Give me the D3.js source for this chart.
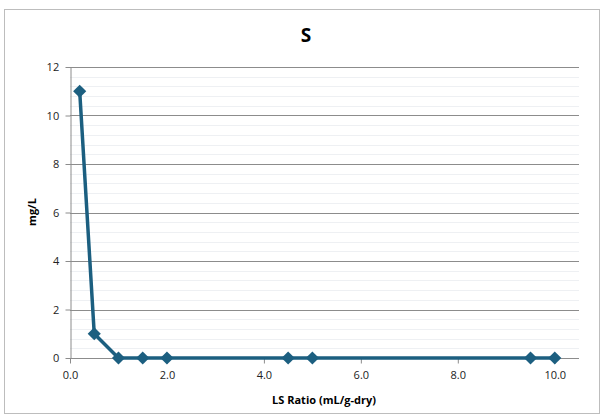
<!DOCTYPE html>
<html><head><meta charset="utf-8">
<script src="https://cdn.jsdelivr.net/npm/d3@7"></script>
<style>body{margin:0;background:#fff;}svg{display:block;}</style>
</head><body>
<script>
const xValues = [0.2, 0.5, 1.0, 1.5, 2.0, 4.5, 5.0, 9.5, 10.0];
const sValues = [11, 1, 0, 0, 0, 0, 0, 0, 0];
const xTicks = [0, 2, 4, 6, 8, 10];
const yTicks = [0, 2, 4, 6, 8, 10, 12];
const title = "S";
const xTitle = "LS Ratio (mL/g-dry)";
const yTitle = "mg/L";

(function () {
const W = 605, H = 420;
const svg = d3.select("body").append("svg").attr("width", W).attr("height", H);
const font = "'Open Sans', 'Liberation Sans', sans-serif";

svg.append("rect").attr("x", 4.5).attr("y", 9.5).attr("width", 595).attr("height", 404)
  .attr("fill", "#fff").attr("stroke", "#bdbdbd").attr("stroke-width", 1);

const mLeft = 70, mRight = 579, mTop = 67, mBottom = 358;
const x = d3.scaleLinear().domain([0, 10.5]).range([mLeft, mRight]);
const y = d3.scaleLinear().domain([0, 12]).range([mBottom, mTop]);

// minor grid
const minor = d3.range(0, 12.01, 0.4).filter(v => Math.abs(v / 2 - Math.round(v / 2)) > 1e-6);
svg.append("g").selectAll("line").data(minor).join("line")
  .attr("x1", mLeft).attr("x2", mRight)
  .attr("y1", d => Math.round(y(d)) + 0.5).attr("y2", d => Math.round(y(d)) + 0.5)
  .attr("stroke", "#eef0f3").attr("stroke-width", 1);

// major grid
svg.append("g").selectAll("line").data(yTicks.filter(d => d > 0)).join("line")
  .attr("x1", mLeft).attr("x2", mRight)
  .attr("y1", d => Math.round(y(d)) + 0.5).attr("y2", d => Math.round(y(d)) + 0.5)
  .attr("stroke", "#8c8c8c").attr("stroke-width", 1);

// axes
const xAxis = svg.append("g").attr("transform", `translate(0,${mBottom + 0.5})`)
  .call(d3.axisBottom(x).tickValues(xTicks).tickFormat(d3.format(".1f")).tickSize(5).tickSizeOuter(0));
const yAxis = svg.append("g").attr("transform", `translate(${mLeft + 0.5},0)`)
  .call(d3.axisLeft(y).tickValues(yTicks).tickSize(5).tickSizeOuter(0));
[xAxis, yAxis].forEach(g => {
  g.select(".domain").attr("stroke", "#8c8c8c");
  g.selectAll(".tick line").attr("stroke", "#8c8c8c");
  g.selectAll("text").attr("font-family", font).attr("font-size", 11).attr("fill", "#222");
});
xAxis.select(".domain").attr("d", `M${mLeft},0H${mRight}`);
xAxis.selectAll(".tick text").attr("dy", "1.1em");
yAxis.selectAll(".tick text").attr("dx", "-0.3em");

// line
const line = d3.line().x((d, i) => x(xValues[i])).y(d => y(d));
svg.append("path").datum(sValues).attr("d", line)
  .attr("fill", "none").attr("stroke", "#1c5f80").attr("stroke-width", 3.5).attr("stroke-linejoin", "round");

const sym = d3.symbol().type(d3.symbolDiamond2).size(110);
svg.append("g").selectAll("path").data(sValues).join("path")
  .attr("d", sym)
  .attr("transform", (d, i) => `translate(${x(xValues[i])},${y(d)})`)
  .attr("fill", "#1c5f80");

// titles
svg.append("text").attr("x", 306).attr("y", 42).attr("text-anchor", "middle")
  .attr("font-family", font).attr("font-weight", "bold").attr("font-size", 19).text(title);
svg.append("text").attr("x", 324).attr("y", 404).attr("text-anchor", "middle")
  .attr("font-family", font).attr("font-weight", "bold").attr("font-size", 11).text(xTitle);
svg.append("text").attr("transform", "translate(36,212) rotate(-90)").attr("text-anchor", "middle")
  .attr("font-family", font).attr("font-weight", "bold").attr("font-size", 11).text(yTitle);
})();
</script>
</body></html>
